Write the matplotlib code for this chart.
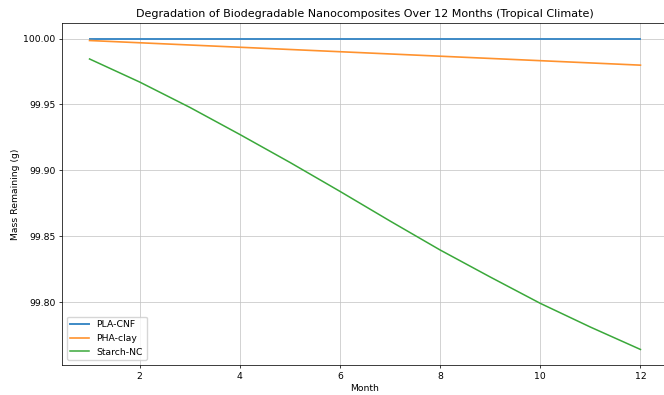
import numpy as np
import matplotlib
matplotlib.use("Agg")
from matplotlib import pyplot as plt

# data
months = [1, 2, 3, 4, 5, 6, 7, 8, 9, 10, 11, 12]
pla_cnf = [100.0, 100.0, 100.0, 100.0, 100.0, 100.0,
           100.0, 100.0, 100.0, 100.0, 100.0, 100.0]
pha_clay = [99.9985, 99.9968, 99.9951, 99.9934, 99.9917, 99.9900,
            99.9883, 99.9866, 99.9849, 99.9832, 99.9815, 99.9798]
starch_nc = [99.9845, 99.9670, 99.9478, 99.9272, 99.9060, 99.8840,
             99.8615, 99.8395, 99.8190, 99.7990, 99.7810, 99.7640]

k = 0.67  # reference looks like a default figure shrunk to ~2/3
plt.rcParams.update({
    'font.size': 10 * k,
    'axes.linewidth': 0.8 * k,
    'xtick.major.size': 3.5 * k, 'ytick.major.size': 3.5 * k,
    'xtick.major.width': 0.8 * k, 'ytick.major.width': 0.8 * k,
    'xtick.major.pad': 3.5 * k, 'ytick.major.pad': 3.5 * k,
    'axes.labelpad': 4 * k, 'axes.titlepad': 6 * k,
    'grid.linewidth': 0.8 * k, 'grid.color': '#c4c4c4',
})

fig = plt.figure(figsize=(6.64, 3.95), dpi=100)
ax = fig.add_axes([62 / 664, 1 - 365 / 395, 606 / 664, 342 / 395])

ax.plot(months, pla_cnf, label='PLA-CNF', lw=1.4, color='#3d8ac6')
ax.plot(months, pha_clay, label='PHA-clay', lw=1.2, color='#ff922e')
ax.plot(months, starch_nc, label='Starch-NC', lw=1.1, color='#3aa83a')

ax.set_title('Degradation of Biodegradable Nanocomposites Over 12 Months (Tropical Climate)', fontsize=12 * k)
ax.set_xlabel('Month')
ax.set_ylabel('Mass Remaining (g)')
ax.yaxis.set_major_formatter(matplotlib.ticker.FormatStrFormatter('%.2f'))
ax.grid(True)
ax.legend(loc='lower left')

fig.savefig('out.png', dpi=100)
